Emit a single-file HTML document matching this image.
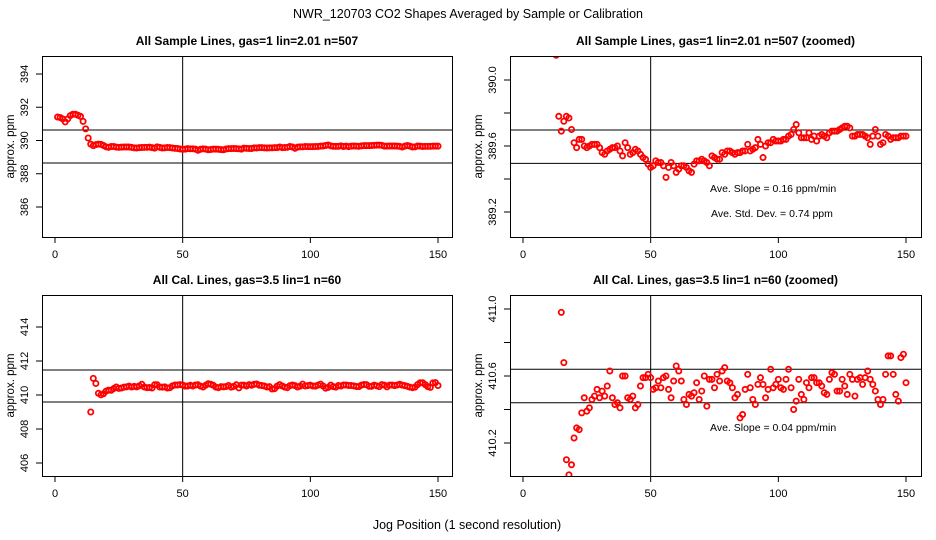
<!DOCTYPE html>
<html><head><meta charset="utf-8"><style>
html,body{margin:0;padding:0;background:#fff;width:936px;height:540px;overflow:hidden;}
svg{display:block;font-family:"Liberation Sans",sans-serif;}
</style></head><body>
<svg id="c" width="936" height="540" viewBox="0 0 936 540">
<text x="468" y="18" text-anchor="middle" font-size="12.5">NWR_120703  CO2 Shapes Averaged by Sample or Calibration</text>
<text x="467" y="529" text-anchor="middle" font-size="12.5">Jog Position (1 second resolution)</text>
</svg>
<script>
const sampleValues=[391.41,391.38,391.30,391.12,391.30,391.50,391.58,391.58,391.52,391.45,391.15,390.70,390.15,389.78,389.69,389.75,389.78,389.77,389.70,389.62,389.59,389.64,389.64,389.60,389.59,389.60,389.61,389.61,389.61,389.59,389.56,389.55,389.57,389.58,389.59,389.59,389.60,389.57,389.54,389.62,389.59,389.55,389.56,389.58,389.57,389.55,389.53,389.52,389.49,389.47,389.48,389.51,389.50,389.50,389.48,389.41,389.47,389.50,389.48,389.44,389.46,389.48,389.48,389.47,389.45,389.44,389.49,389.51,389.51,389.52,389.51,389.50,389.48,389.54,389.53,389.52,389.52,389.56,389.55,389.57,389.57,389.56,389.55,389.56,389.56,389.57,389.57,389.61,389.57,389.58,389.59,389.64,389.61,389.53,389.60,389.62,389.62,389.64,389.63,389.63,389.63,389.64,389.64,389.66,389.67,389.70,389.73,389.68,389.65,389.65,389.65,389.68,389.64,389.66,389.63,389.66,389.67,389.66,389.65,389.68,389.69,389.69,389.69,389.70,389.71,389.72,389.72,389.71,389.66,389.66,389.67,389.67,389.67,389.66,389.65,389.61,389.66,389.70,389.66,389.61,389.62,389.67,389.66,389.64,389.65,389.65,389.65,389.66,389.66,389.66];
const sampleStart=1;
const calValues=[409.0,410.98,410.68,410.10,410.01,410.07,410.23,410.29,410.28,410.38,410.47,410.39,410.41,410.46,410.48,410.52,410.47,410.51,410.48,410.54,410.63,410.47,410.43,410.44,410.41,410.60,410.60,410.47,410.46,410.48,410.41,410.43,410.54,410.59,410.59,410.61,410.59,410.52,410.53,410.57,410.53,410.59,410.60,410.52,410.47,410.57,410.66,410.63,410.57,410.46,410.43,410.49,410.48,410.50,410.56,410.46,410.51,410.60,410.42,410.58,410.58,410.53,410.61,410.57,410.63,410.65,410.57,410.56,410.53,410.47,410.49,410.35,410.37,410.52,410.61,410.53,410.46,410.43,410.55,410.59,410.55,410.47,410.52,410.64,410.53,410.55,410.58,410.53,410.52,410.58,410.64,410.53,410.40,410.45,410.58,410.49,410.46,410.56,410.53,410.59,410.59,410.56,410.56,410.54,410.50,410.49,410.58,410.62,410.61,410.51,410.51,410.58,410.54,410.49,410.61,410.58,410.48,410.58,410.59,410.55,410.59,410.63,410.58,410.55,410.51,410.46,410.43,410.46,410.61,410.72,410.72,410.61,410.49,410.45,410.71,410.73,410.56];
const calStart=14;
const xTicks=[0,50,100,150];
const tlYTicks=[386,388,390,392,394];
const tlYLabels=["386","388","390","392","394"];
const trYTicks=[389.2,389.4,389.6,389.8,390.0];
const trYLabels=["389.2","","389.6","","390.0"];
const blYTicks=[406,408,410,412,414];
const blYLabels=["406","408","410","412","414"];
const brYTicks=[410.2,410.4,410.6,410.8,411.0];
const brYLabels=["410.2","","410.6","","411.0"];
const tlHLines=[390.63,388.65];
const trHLines=[389.697,389.495];
const blHLines=[411.47,409.59];
const brHLines=[410.64,410.44];
const vLineX=50;

const NS="http://www.w3.org/2000/svg";
const svg=document.getElementById('c');
function mk(tag,attrs,parent){const e=document.createElementNS(NS,tag);for(const k in attrs)e.setAttribute(k,attrs[k]);(parent||svg).appendChild(e);return e;}

function panel(id,title,box,x0px,x150px,yv1,yp1,yv2,yp2,values,start,yTicks,yLabels,hlines,notes){
  const g=mk('g',{});
  
  
  const xs=v=>x0px+(v-0)*(x150px-x0px)/150;
  const ys=v=>yp1+(v-yv1)*(yp2-yp1)/(yv2-yv1);
  const [bx0,by0,bx1,by1]=box;
  const t=mk('text',{x:(bx0+bx1)/2,y:by0-11,'text-anchor':'middle','font-size':'12','font-weight':'bold'},g);
  t.textContent=title;
  
  
  const cid='clip-'+id;
  const cp=mk('clipPath',{id:cid},g);
  mk('rect',{x:bx0,y:by0,width:bx1-bx0,height:by1-by0},cp);
  xTicks.forEach(v=>{
    const x=xs(v);
    mk('line',{x1:x,y1:by1,x2:x,y2:by1+6,stroke:'#000','stroke-width':1},g);
    const l=mk('text',{x:x,y:by1+21,'text-anchor':'middle','font-size':'11'},g);
    l.textContent=String(v);
    
    
  });
  mk('line',{x1:xs(xTicks[0]),y1:by1+0.5,x2:xs(xTicks[xTicks.length-1]),y2:by1+0.5,stroke:'#000'},g);
  yTicks.forEach((v,i)=>{
    const y=ys(v);
    mk('line',{x1:bx0,y1:y,x2:bx0-6,y2:y,stroke:'#000'},g);
    if(yLabels[i]){
      const l=mk('text',{x:0,y:0,'text-anchor':'middle','font-size':'11',transform:`translate(${bx0-14},${y}) rotate(-90)`},g);
      l.textContent=yLabels[i];
      
      
    }
  });
  const yl=mk('text',{x:0,y:0,'text-anchor':'middle','font-size':'11.5',transform:`translate(${bx0-28},${(by0+by1)/2}) rotate(-90)`},g);
  yl.textContent='approx. ppm';
  
  
  const inner=mk('g',{'clip-path':`url(#${cid})`},g);
  hlines.forEach(v=>{
    const h=mk('line',{x1:bx0,x2:bx1,y1:ys(v),y2:ys(v),stroke:'#000'},inner);
    
    
  });
  const vl=mk('line',{x1:xs(vLineX),x2:xs(vLineX),y1:by0,y2:by1,stroke:'#000'},inner);
  
  
  values.forEach((v,i)=>{
    const cy=ys(v);
    if(cy<by0-4||cy>by1+4) return;
    const c=mk('circle',{cx:xs(start+i),cy:cy,r:2.6,fill:'none',stroke:'#f00','stroke-width':1.8},inner);
    
    
  });
  mk('rect',{x:bx0+0.5,y:by0+0.5,width:bx1-bx0,height:by1-by0,fill:'none',stroke:'#000'},g);
  notes.forEach(n=>{
    const a=mk('text',{x:n[0],y:n[1],'font-size':'10.5'},g);
    a.textContent=n[2];
    
    
  });
}
panel('panel-sample-all','All Sample Lines, gas=1 lin=2.01 n=507',[42,56,452,237],55,438,394,74,386,207,sampleValues,sampleStart,tlYTicks,tlYLabels,tlHLines,[]);
panel('panel-sample-zoomed','All Sample Lines, gas=1 lin=2.01 n=507 (zoomed)',[510,56,921,237],523,906,390.0,80,389.2,212,sampleValues,sampleStart,trYTicks,trYLabels,trHLines,[[710,192,'Ave. Slope =  0.16  ppm/min'],[711,217,'Ave. Std. Dev. =  0.74  ppm']]);
panel('panel-cal-all','All Cal. Lines, gas=3.5 lin=1 n=60',[42,295,452,476],55,438,414,327,406,463,calValues,calStart,blYTicks,blYLabels,blHLines,[]);
panel('panel-cal-zoomed','All Cal. Lines, gas=3.5 lin=1 n=60 (zoomed)',[510,295,921,476],523,906,411.0,309,410.2,443,calValues,calStart,brYTicks,brYLabels,brHLines,[[710,431,'Ave. Slope =  0.04  ppm/min']]);
</script>
</body></html>
